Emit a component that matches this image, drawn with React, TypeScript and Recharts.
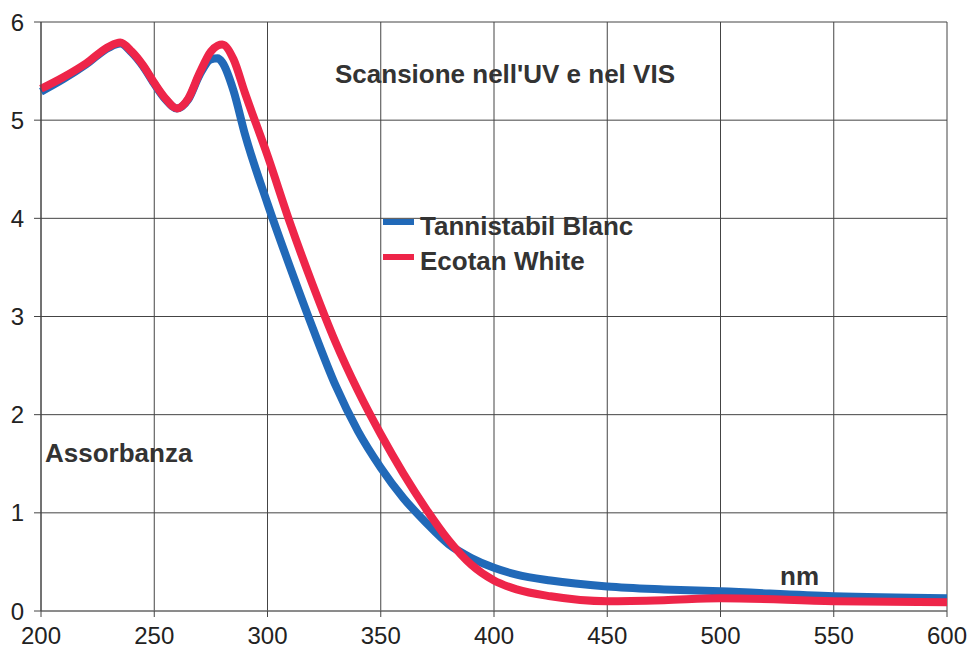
import { LineChart, Line, CartesianGrid, XAxis, YAxis } from "recharts";

const nm = [200, 210, 220, 230, 235, 240, 245, 250, 255, 260, 265, 270, 275, 278, 280, 285, 290, 300, 310, 320, 330, 340, 350, 360, 370, 380, 390, 400, 410, 425, 450, 475, 500, 550, 600];
const tannistabil = [5.29, 5.42, 5.57, 5.74, 5.78, 5.69, 5.55, 5.37, 5.21, 5.12, 5.21, 5.46, 5.62, 5.63, 5.59, 5.3, 4.86, 4.15, 3.5, 2.88, 2.3, 1.83, 1.46, 1.15, 0.9, 0.68, 0.54, 0.44, 0.37, 0.31, 0.25, 0.22, 0.2, 0.15, 0.13];
const ecotan = [5.32, 5.44, 5.58, 5.75, 5.79, 5.7, 5.56, 5.38, 5.22, 5.12, 5.22, 5.48, 5.7, 5.76, 5.77, 5.62, 5.28, 4.64, 3.95, 3.32, 2.74, 2.24, 1.8, 1.4, 1.04, 0.72, 0.47, 0.31, 0.22, 0.15, 0.1, 0.11, 0.13, 0.1, 0.09];
const xTicks = [200, 250, 300, 350, 400, 450, 500, 550, 600];
const yTicks = [0, 1, 2, 3, 4, 5, 6];

const data = nm.map((x, i) => ({ nm: x, tannistabil: tannistabil[i], ecotan: ecotan[i] }));

const BLUE = "#2169b8";
const RED = "#ee2549";
const textStyle = {
  position: "absolute" as const,
  fontFamily: "'Liberation Sans', Arial, sans-serif",
  fontWeight: 700,
  fontSize: 26,
  lineHeight: "26px",
  color: "#333",
  whiteSpace: "nowrap" as const,
};
const tickFont = { fontFamily: "'Liberation Sans Narrow', 'Liberation Sans', Arial", fontSize: 24, fill: "#222" };

export default function App() {
  return (
    <div style={{ position: "absolute", left: 0, top: 0, width: 969, height: 657, background: "#fff" }}>
      <LineChart width={969} height={657} data={data} margin={{ top: 22, right: 22, bottom: 0, left: 0 }}>
        <CartesianGrid stroke="#444" strokeWidth={1} />
        <XAxis
          dataKey="nm"
          type="number"
          domain={[200, 600]}
          ticks={xTicks}
          height={46}
          tickSize={6}
          tickMargin={10}
          tick={tickFont}
          axisLine={{ stroke: "#777" }}
          tickLine={{ stroke: "#444" }}
        />
        <YAxis
          type="number"
          domain={[0, 6]}
          ticks={yTicks}
          width={41}
          tickSize={7}
          tickMargin={10}
          tick={tickFont}
          axisLine={{ stroke: "#444" }}
          tickLine={{ stroke: "#444" }}
        />
        <Line type="monotone" dataKey="tannistabil" stroke={BLUE} strokeWidth={8} dot={false} isAnimationActive={false} />
        <Line type="monotone" dataKey="ecotan" stroke={RED} strokeWidth={8} dot={false} isAnimationActive={false} />
      </LineChart>
      <div style={{ ...textStyle, left: 335, top: 61 }}>Scansione nell'UV e nel VIS</div>
      <div style={{ ...textStyle, left: 45, top: 440 }}>Assorbanza</div>
      <div style={{ ...textStyle, left: 780, top: 563 }}>nm</div>
      <div style={{ position: "absolute", left: 383, top: 219, width: 31, height: 6, background: BLUE }} />
      <div style={{ ...textStyle, left: 420, top: 213 }}>Tannistabil Blanc</div>
      <div style={{ position: "absolute", left: 383, top: 254, width: 31, height: 6, background: RED }} />
      <div style={{ ...textStyle, left: 420, top: 248 }}>Ecotan White</div>
    </div>
  );
}
